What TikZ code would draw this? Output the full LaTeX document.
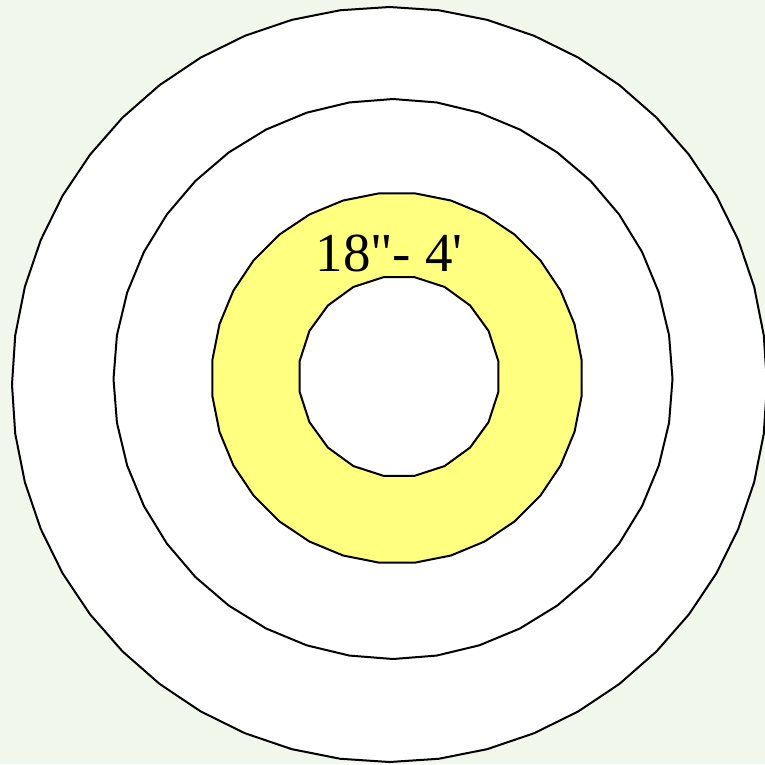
\documentclass[tikz,border=0pt]{standalone}
\usepackage{fontspec}
\newfontfamily\tnr[Ligatures=TeXOff]{Liberation Serif}
\definecolor{bg}{HTML}{F1F7EA}
\definecolor{ring}{HTML}{FFFF80}
\begin{document}
\begin{tikzpicture}[x=1pt,y=-1pt,
  outline/.style={draw=black,line width=2pt,line join=round}]
\fill[bg] (0,0) rectangle (765,764);
\useasboundingbox (0,0) rectangle (765,764);
% outer ring
\draw[outline,fill=white] plot[samples=49,domain=0:360,variable=\t] ({389.5+377.5*cos(\t)},{384.5+377.5*sin(\t)}) -- cycle;
% middle ring
\draw[outline,fill=white] plot[samples=41,domain=0:360,variable=\t] ({393+279.5*cos(\t)},{379+280*sin(\t)}) -- cycle;
% yellow ring
\draw[outline,fill=ring] plot[samples=33,domain=5.625:365.625,variable=\t] ({397+185.5*cos(\t)},{378+185.5*sin(\t)}) -- cycle;
% inner circle
\draw[outline,fill=white] plot[samples=21,domain=9:369,variable=\t] ({399+100.5*cos(\t)},{376.5+100.5*sin(\t)}) -- cycle;
\node[inner sep=0pt,anchor=base,font=\tnr\fontsize{55}{60}\selectfont] (lbl) at (389,271) {18"- 4'};
\end{tikzpicture}
\end{document}
